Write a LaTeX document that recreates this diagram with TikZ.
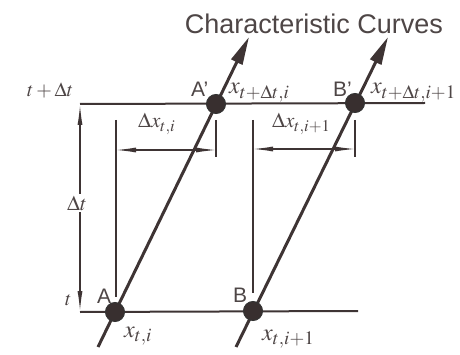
\documentclass[tikz,border=0pt]{standalone}
\usepackage{mathptmx}
\usepackage{fontspec}
\setsansfont{Liberation Sans}
\usetikzlibrary{arrows.meta}
\DeclareMathSizes{24}{24}{19}{14}
\DeclareMathSizes{21}{21}{16.5}{12}
\DeclareMathSizes{20}{20}{16}{12}
\definecolor{ink}{RGB}{62,52,52}
\definecolor{txt}{RGB}{78,70,70}
\begin{document}
\begin{tikzpicture}[x=1pt,y=-1pt,
  every node/.style={text=txt, inner sep=0pt},
  dot/.style={circle, fill=ink!90!black, draw=black!80, line width=1pt, minimum size=19pt, inner sep=0pt},
  charline/.style={draw=ink, line width=3pt, -{Triangle[length=28pt,width=12pt]}},
  gridline/.style={draw=ink, line width=2pt},
  refline/.style={draw=ink, line width=1.1pt},
  dimarrow/.style={draw=ink, line width=1.1pt, {Latex[length=20pt,width=5pt]}-{Latex[length=20pt,width=5pt]}},
  lab/.style={font=\fontsize{20}{24}\selectfont, anchor=base west},
  dxlab/.style={font=\fontsize{21}{24}\selectfont, anchor=base west},
  biglab/.style={font=\fontsize{24}{28}\selectfont, anchor=base west},
  sflab/.style={font=\sffamily\fontsize{21}{24}\selectfont, anchor=base west},
]
\useasboundingbox (0,0) rectangle (460,355);
% coordinates
\coordinate (TL) at (80,104);
\coordinate (TR) at (425,103);
\coordinate (BL) at (80,312);
\coordinate (BR) at (358,311);
\coordinate (Alo) at (98,347);
\coordinate (Atip) at (249,37);
\coordinate (Blo) at (236,347);
\coordinate (Btip) at (388,37);
\coordinate (Av1) at (116,120);
\coordinate (Av2) at (116,297);
\coordinate (Bv1) at (253,120);
\coordinate (Bv2) at (253,293);
\coordinate (Apt1) at (216,120);
\coordinate (Apt2) at (216,157);
\coordinate (Bpt1) at (355,120);
\coordinate (Bpt2) at (355,157);
\coordinate (D1a) at (116,150);
\coordinate (D1b) at (216,150);
\coordinate (D2a) at (253,149);
\coordinate (D2b) at (355,149);
\coordinate (Dta) at (80,105);
\coordinate (Dtb) at (80,311);
% lines
\draw[gridline] (TL) -- (TR);
\draw[gridline] (BL) -- (BR);
\draw[refline] (Av1) -- (Av2);
\draw[refline] (Bv1) -- (Bv2);
\draw[refline] (Apt1) -- (Apt2);
\draw[refline] (Bpt1) -- (Bpt2);
\draw[dimarrow] (D1b) -- (D1a);
\draw[dimarrow] (D2b) -- (D2a);
\draw[dimarrow] (Dta) -- (Dtb);
\node[font=\fontsize{21}{24}\selectfont, fill=white, inner sep=2pt] (ldt) at (77,203) {$\Delta t$};
\draw[charline] (Alo) -- (Atip);
\draw[charline] (Blo) -- (Btip);
% dots
\node[dot] (A) at (115,312) {};
\node[dot] (Ap) at (216,104) {};
\node[dot] (B) at (253,311) {};
\node[dot] (Bp) at (355,103) {};
% labels
\node[anchor=base, font=\sffamily\fontsize{27}{30}\selectfont] (title) at (314,34) {Characteristic Curves};
\node[lab] (ltdt) at (27,97) {$t+\Delta t$};
\node[lab] (lt) at (65,305) {$t$};
\node[sflab] (lAp) at (191,97) {A'};
\node[sflab] (lBp) at (333,97) {B'};
\node[sflab] (lA) at (97,303) {A};
\node[sflab] (lB) at (233,302) {B};
\node[biglab] (lxAp) at (229,94) {$x_{t+\Delta t,i}$};
\node[biglab] (lxBp) at (371,94) {$x_{t+\Delta t,i+1}$};
\node[dxlab] (ldx1) at (138,128) {$\Delta x_{t,i}$};
\node[dxlab] (ldx2) at (272,128) {$\Delta x_{t,i+1}$};
\node[biglab] (lxA) at (124,337) {$x_{t,i}$};
\node[biglab] (lxB) at (262,340) {$x_{t,i+1}$};
\end{tikzpicture}
\end{document}
